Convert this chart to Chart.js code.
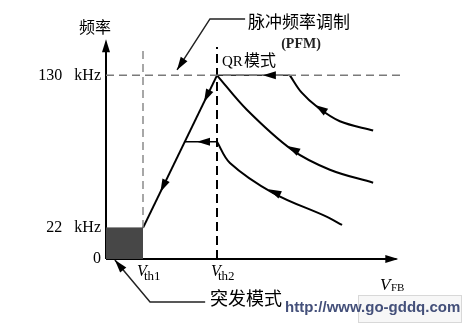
<!DOCTYPE html>
<html>
<head>
<meta charset="utf-8">
<script src="https://cdn.jsdelivr.net/npm/chart.js@4/dist/chart.umd.min.js"></script>
<style>
  body { margin: 0; background: #fff; }
</style>
</head>
<body>
<canvas id="chart" width="463" height="326"></canvas>
<script>
// frequency levels in kHz
var fMax = 130;
var fBurst = 22;
var fStep = 83;
var yTicks = [0, 22, 130];
var yTickLabels = ['0', '22   kHz', '130   kHz'];

// feedback voltage (arbitrary units)
var vth1 = 1;
var vth2 = 3;
var vAxisEnd = 7.85;
var fAxisEnd = 152;

// ramp from burst mode up to the QR peak
var rampX = [1, 3];
var rampY = [22, 130];

// PFM curves
var curveAX = [4.97, 5.29, 5.73, 6.32, 7.22];
var curveAY = [130, 117.7, 107.2, 97.5, 90.9];
var curveBX = [3, 3.8, 5.02, 6.05, 7.22];
var curveBY = [130, 105.8, 77.4, 63.2, 54];
var curveCX = [3, 3.35, 4.52, 5.96, 6.38];
var curveCY = [83, 68, 46.7, 30, 24.1];

function pts(xs, ys) {
    return xs.map(function (x, i) { return { x: x, y: ys[i] }; });
}

function line(data, color, width, dash, tension) {
    return {
        data: data,
        borderColor: color,
        backgroundColor: color,
        borderWidth: width,
        borderDash: dash || [],
        pointRadius: 0,
        fill: false,
        clip: false,
        tension: tension || 0
    };
}

// arrowheads: [fromX, fromY, tipX, tipY]
var arrows = [
    [0, 145, 0, 155.5],
    [7.5, 0, 7.9, 0],
    [3, 130, 2.65, 111.1],
    [2, 76, 1.47, 47.4],
    [5, 130, 4.24, 130],
    [3, 83, 2.46, 83],
    [6.32, 97.5, 5.65, 109],
    [6.05, 63.2, 4.9, 80],
    [5.96, 30, 4.39, 49.3],
    [1.19, -30.4, 0.24, -0.7],
    [2.81, 169.9, 1.92, 133.8]
];

function drawArrow(ctx, x0, y0, x1, y1, len, half) {
    var a = Math.atan2(y1 - y0, x1 - x0);
    ctx.save();
    ctx.translate(x1, y1);
    ctx.rotate(a);
    ctx.beginPath();
    ctx.moveTo(0, 0);
    ctx.lineTo(-len, -half);
    ctx.lineTo(-len, half);
    ctx.closePath();
    ctx.fill();
    ctx.restore();
}

function txt(ctx, s, x, y, font, align, color) {
    ctx.font = font;
    ctx.textAlign = align || 'left';
    ctx.textBaseline = 'alphabetic';
    ctx.fillStyle = color || '#000';
    ctx.fillText(s, x, y);
}

var cjk = "'Noto Sans CJK SC'";
var serif = "'Liberation Serif'";

var annotate = {
    id: 'annotate',
    afterDatasetsDraw: function (chart) {
        var ctx = chart.ctx;
        var sx = chart.scales.x, sy = chart.scales.y;
        ctx.fillStyle = '#000';
        arrows.forEach(function (a) {
            drawArrow(ctx, sx.getPixelForValue(a[0]), sy.getPixelForValue(a[1]),
                sx.getPixelForValue(a[2]), sy.getPixelForValue(a[3]), 13, 4);
        });

        var base = sy.getPixelForValue(0);
        // threshold labels
        [[vth1, 'th1'], [vth2, 'th2']].forEach(function (v) {
            var x = sx.getPixelForValue(v[0]) - 6;
            txt(ctx, 'V', x, base + 17, 'italic 16px ' + serif);
            txt(ctx, v[1], x + 7, base + 21, '13px ' + serif);
        });
        txt(ctx, 'V', 380, base + 31, 'italic 17px ' + serif);
        txt(ctx, 'FB', 391, base + 32, '11px ' + serif);

        txt(ctx, '频率', 95, 33, '16px ' + cjk, 'center');
        txt(ctx, '脉冲频率调制', 248, 28, '17px ' + cjk);
        txt(ctx, '(PFM)', 301, 48, 'bold 14px ' + serif, 'center', '#222');
        txt(ctx, 'QR', 222, 66, '15px ' + serif);
        txt(ctx, '模式', 244, 66, '16px ' + cjk);
        txt(ctx, '突发模式', 210, 305, '18px ' + cjk);

        // watermark
        ctx.strokeStyle = '#d8d8d8';
        ctx.lineWidth = 1;
        ctx.fillStyle = '#f7f7f7';
        ctx.fillRect(358.5, 295.5, 103, 27);
        ctx.strokeRect(358.5, 295.5, 103, 27);
        txt(ctx, 'http://www.go-gddq.com', 285, 312, 'bold 15px ' + "'Liberation Sans'", 'left', '#44507a');
    }
};

new Chart(document.getElementById('chart'), {
    type: 'line',
    data: {
        datasets: [
            Object.assign(line(pts([0, vth1], [fBurst, fBurst]), '#474747', 1), { fill: 'origin' }),
            line(pts([0, vAxisEnd + 0.1], [fMax, fMax]), '#7a7a7a', 1.5, [8, 5]),
            line(pts([vth1, vth1], [fBurst, 150]), '#8a8a8a', 1.5, [8, 5]),
            line(pts([vth2, vth2], [0, 150]), '#000', 2, [9, 5]),
            line(pts([vth2, curveAX[0]], [fMax, fMax]), '#333', 1.5),
            line(pts(rampX, rampY), '#000', 2),
            line(pts([2.13, vth2], [fStep, fStep]), '#000', 1.5),
            line(pts(curveAX, curveAY), '#000', 2, null, 0.35),
            line(pts(curveBX, curveBY), '#000', 2, null, 0.35),
            line(pts(curveCX, curveCY), '#000', 2, null, 0.35),
            line(pts([0, vAxisEnd], [0, 0]), '#000', 2),
            line(pts([0, 0], [0, fAxisEnd]), '#000', 2),
            line(pts([3.76, 2.81, 1.92], [169.9, 169.9, 133.8]), '#222', 1.5),
            line(pts([2.68, 1.19, 0.24], [-30.4, -30.4, -0.7]), '#222', 1.5)
        ]
    },
    options: {
        responsive: false,
        animation: false,
        layout: { padding: { top: 40, right: 61, bottom: 67, left: 0 } },
        plugins: { legend: { display: false }, tooltip: { enabled: false } },
        scales: {
            x: { type: 'linear', min: 0, max: 8, display: false },
            y: {
                type: 'linear', min: 0, max: 155,
                grid: { display: false, drawTicks: false },
                border: { display: false },
                afterFit: function (s) { s.width = 106; },
                afterBuildTicks: function (s) {
                    s.ticks = yTicks.map(function (v) { return { value: v }; });
                },
                ticks: {
                    padding: 5,
                    color: '#000',
                    font: { family: 'Liberation Serif', size: 16 },
                    callback: function (v, i) { return yTickLabels[i]; }
                }
            }
        }
    },
    plugins: [annotate]
});
</script>
</body>
</html>
